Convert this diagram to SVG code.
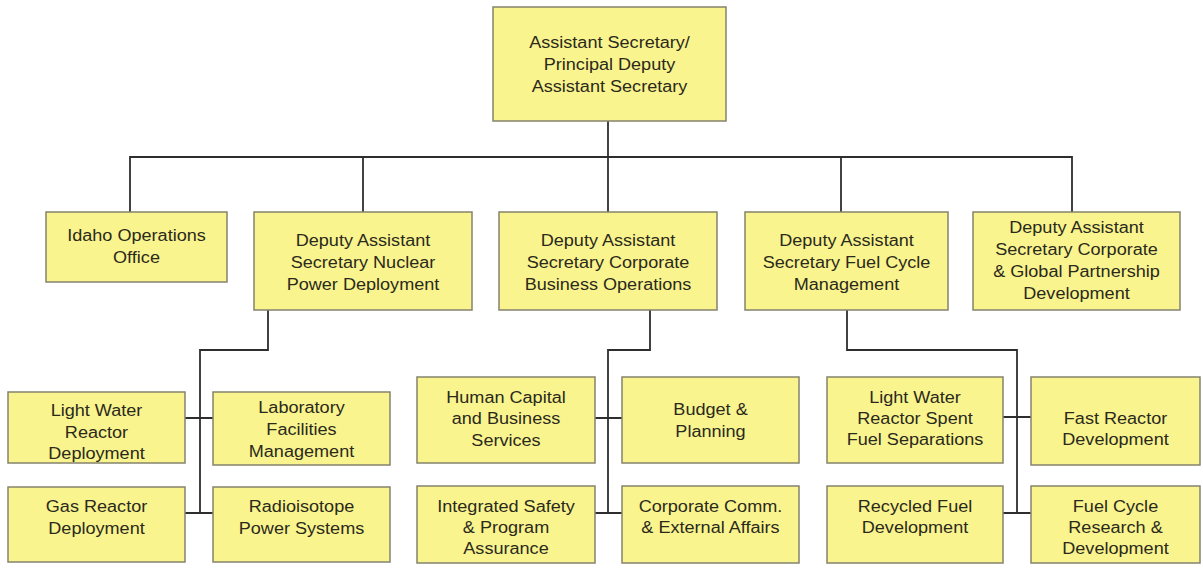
<svg xmlns="http://www.w3.org/2000/svg" width="1203" height="568" viewBox="0 0 1203 568">
  <style>
    .box { fill: #faf48e; stroke: #85826c; stroke-width: 1.5; }
    .t { font-family: "Liberation Sans", Arial, sans-serif; font-size: 16px; fill: #2a2a1c; text-anchor: middle; }
    .ln { fill: none; stroke: #2e2e2e; stroke-width: 1.8; }
  </style>
  <rect width="1203" height="568" fill="#ffffff"/>

  <!-- connectors -->
  <g id="connectors">
    <path class="ln" d="M608,121 V212"/>
    <path class="ln" d="M130,212 V157 H1072 V212"/>
    <path class="ln" d="M363,157 V212"/>
    <path class="ln" d="M841,157 V212"/>
    <path class="ln" d="M268,310 V350 H200 V513"/>
    <path class="ln" d="M185,418 H213 M185,513 H213"/>
    <path class="ln" d="M650,310 V350 H608 V513"/>
    <path class="ln" d="M595,418 H622 M595,513 H622"/>
    <path class="ln" d="M847,310 V350 H1017 V513"/>
    <path class="ln" d="M1003,417 H1031 M1003,513 H1031"/>
  </g>

  <!-- head office -->
  <g id="assistant-secretary">
    <rect class="box" x="493" y="7" width="233" height="114"/>
    <text class="t" transform="translate(609.5 0) scale(1.13 1)"><tspan x="0" y="48.5">Assistant Secretary/</tspan><tspan x="0" y="70.5">Principal Deputy</tspan><tspan x="0" y="92.5">Assistant Secretary</tspan></text>
  </g>

  <!-- first tier -->
  <g id="idaho-operations">
    <rect class="box" x="46" y="212" width="181" height="70"/>
    <text class="t" transform="translate(136.5 0) scale(1.13 1)"><tspan x="0" y="241.5">Idaho Operations</tspan><tspan x="0" y="263.5">Office</tspan></text>
  </g>
  <g id="das-nuclear-power">
    <rect class="box" x="254" y="212" width="218" height="98"/>
    <text class="t" transform="translate(363 0) scale(1.13 1)"><tspan x="0" y="246">Deputy Assistant</tspan><tspan x="0" y="268">Secretary Nuclear</tspan><tspan x="0" y="290">Power Deployment</tspan></text>
  </g>
  <g id="das-corporate-business">
    <rect class="box" x="499" y="212" width="218" height="98"/>
    <text class="t" transform="translate(608 0) scale(1.13 1)"><tspan x="0" y="246">Deputy Assistant</tspan><tspan x="0" y="268">Secretary Corporate</tspan><tspan x="0" y="290">Business Operations</tspan></text>
  </g>
  <g id="das-fuel-cycle">
    <rect class="box" x="745" y="212" width="203" height="98"/>
    <text class="t" transform="translate(846.5 0) scale(1.13 1)"><tspan x="0" y="246">Deputy Assistant</tspan><tspan x="0" y="268">Secretary Fuel Cycle</tspan><tspan x="0" y="290">Management</tspan></text>
  </g>
  <g id="das-global-partnership">
    <rect class="box" x="973" y="212" width="207" height="98"/>
    <text class="t" transform="translate(1076.5 0) scale(1.13 1)"><tspan x="0" y="233">Deputy Assistant</tspan><tspan x="0" y="255">Secretary Corporate</tspan><tspan x="0" y="277">&amp; Global Partnership</tspan><tspan x="0" y="299">Development</tspan></text>
  </g>

  <!-- nuclear power offices -->
  <g id="lwr-deployment">
    <rect class="box" x="8" y="392" width="177" height="71"/>
    <text class="t" transform="translate(96.5 0) scale(1.13 1)"><tspan x="0" y="416">Light Water</tspan><tspan x="0" y="438">Reactor</tspan><tspan x="0" y="459">Deployment</tspan></text>
  </g>
  <g id="lab-facilities">
    <rect class="box" x="213" y="392" width="177" height="73"/>
    <text class="t" transform="translate(301.5 0) scale(1.13 1)"><tspan x="0" y="413">Laboratory</tspan><tspan x="0" y="435">Facilities</tspan><tspan x="0" y="457">Management</tspan></text>
  </g>
  <g id="gas-reactor">
    <rect class="box" x="8" y="487" width="177" height="75"/>
    <text class="t" transform="translate(96.5 0) scale(1.13 1)"><tspan x="0" y="512">Gas Reactor</tspan><tspan x="0" y="534">Deployment</tspan></text>
  </g>
  <g id="radioisotope-power">
    <rect class="box" x="213" y="487" width="177" height="75"/>
    <text class="t" transform="translate(301.5 0) scale(1.13 1)"><tspan x="0" y="512">Radioisotope</tspan><tspan x="0" y="534">Power Systems</tspan></text>
  </g>

  <!-- business operations offices -->
  <g id="human-capital">
    <rect class="box" x="417" y="377" width="178" height="86"/>
    <text class="t" transform="translate(506 0) scale(1.13 1)"><tspan x="0" y="403">Human Capital</tspan><tspan x="0" y="424">and Business</tspan><tspan x="0" y="446">Services</tspan></text>
  </g>
  <g id="budget-planning">
    <rect class="box" x="622" y="377" width="177" height="86"/>
    <text class="t" transform="translate(710.5 0) scale(1.13 1)"><tspan x="0" y="415">Budget &amp;</tspan><tspan x="0" y="437">Planning</tspan></text>
  </g>
  <g id="integrated-safety">
    <rect class="box" x="417" y="486" width="178" height="77"/>
    <text class="t" transform="translate(506 0) scale(1.13 1)"><tspan x="0" y="512">Integrated Safety</tspan><tspan x="0" y="533">&amp; Program</tspan><tspan x="0" y="554">Assurance</tspan></text>
  </g>
  <g id="corporate-comm">
    <rect class="box" x="622" y="486" width="177" height="77"/>
    <text class="t" transform="translate(710.5 0) scale(1.13 1)"><tspan x="0" y="512">Corporate Comm.</tspan><tspan x="0" y="533">&amp; External Affairs</tspan></text>
  </g>

  <!-- fuel cycle offices -->
  <g id="lwr-spent-fuel">
    <rect class="box" x="827" y="377" width="176" height="86"/>
    <text class="t" transform="translate(915 0) scale(1.13 1)"><tspan x="0" y="403">Light Water</tspan><tspan x="0" y="424">Reactor Spent</tspan><tspan x="0" y="445">Fuel Separations</tspan></text>
  </g>
  <g id="fast-reactor">
    <rect class="box" x="1031" y="377" width="169" height="88"/>
    <text class="t" transform="translate(1115.5 0) scale(1.13 1)"><tspan x="0" y="424">Fast Reactor</tspan><tspan x="0" y="445">Development</tspan></text>
  </g>
  <g id="recycled-fuel">
    <rect class="box" x="827" y="486" width="176" height="77"/>
    <text class="t" transform="translate(915 0) scale(1.13 1)"><tspan x="0" y="512">Recycled Fuel</tspan><tspan x="0" y="533">Development</tspan></text>
  </g>
  <g id="fuel-cycle-rd">
    <rect class="box" x="1031" y="486" width="169" height="77"/>
    <text class="t" transform="translate(1115.5 0) scale(1.13 1)"><tspan x="0" y="512">Fuel Cycle</tspan><tspan x="0" y="533">Research &amp;</tspan><tspan x="0" y="554">Development</tspan></text>
  </g>
</svg>
